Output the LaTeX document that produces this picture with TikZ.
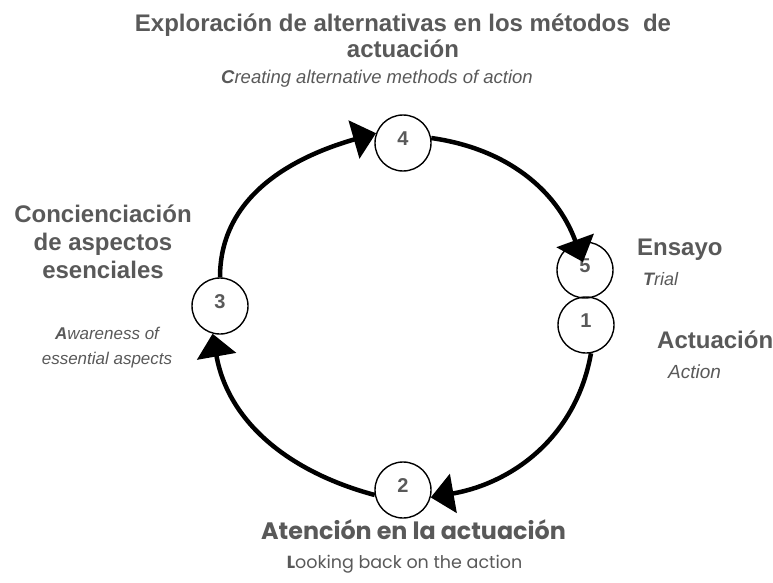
\documentclass[tikz,border=0pt]{standalone}
\usepackage{fontspec}
\setmainfont{Liberation Sans}
\newfontfamily\geofont{Poppins}
\usetikzlibrary{arrows.meta}
\definecolor{txt}{RGB}{89,89,89}
\begin{document}
\begin{tikzpicture}[x=1pt,y=1pt,
  num/.style={circle,draw=black,line width=1.4pt,minimum size=56pt,inner sep=0pt,
    text height=14pt,text depth=9pt,
    font=\fontsize{20}{20}\selectfont\bfseries,text=txt},
  flow/.style={line width=4.5pt,-{Triangle[length=23pt,width=39pt]}},
  head/.style={text=txt,font=\fontsize{24}{27}\selectfont\bfseries,align=center,anchor=base,inner sep=0pt},
  sub/.style={text=txt,font=\fontsize{17}{24}\selectfont\itshape,align=center,anchor=base,inner sep=0pt},
  geohead/.style={text=txt,font=\geofont\fontsize{23.8}{24}\selectfont\bfseries,anchor=base,inner sep=0pt},
  geosub/.style={text=txt,font=\geofont\fontsize{17.5}{18}\selectfont,anchor=base,inner sep=0pt}]
\useasboundingbox (0,0) rectangle (773,-583);
% numbered circles
\node[num] (c4) at (403,-143) {4};
\node[num] (c3) at (220,-306) {3};
\node[num] (c5) at (585,-270) {5};
\node[num] (c1) at (586,-325) {1};
\node[num] (c2) at (403,-490) {2};
\coordinate (t5) at (583,-262);
% connectors
\draw[flow] (c3.north) to[out=90,in=196] (c4.160);
\draw[flow] (c4.10) to[out=-8,in=110] (t5);
\draw[flow] (c1.-80) to[out=-100,in=10] (c2.-15);
\draw[flow] (c2.190) to[out=165,in=-80] (c3.-105);
% labels
\node[head,font=\fontsize{24}{26}\selectfont\bfseries] (title) at (403,-58) {Exploración de alternativas en los métodos\ \ de\\actuación};
\node[sub,font=\fontsize{18.5}{20}\selectfont\itshape] (titlesub) at (377,-84) {\textbf{C}reating alternative methods of action};
\node[head,font=\fontsize{24}{28}\selectfont\bfseries] (left) at (103,-278) {Concienciación\\de aspectos\\esenciales};
\node[sub,font=\fontsize{17}{25}\selectfont\itshape] (leftsub) at (107,-364) {\textbf{A}wareness of\\essential aspects};
\node[head,anchor=base west] (ens) at (637,-255) {Ensayo};
\node[sub,anchor=base west,font=\fontsize{18}{18}\selectfont\itshape] (enssub) at (643,-285) {\textbf{T}rial};
\node[head,anchor=base west] (act) at (657,-348) {Actuación};
\node[sub,anchor=base west,font=\fontsize{19}{19}\selectfont\itshape] (actsub) at (668,-378) {Action};
\node[geohead] (bot) at (413.5,-539) {Atención en la actuación};
\node[geosub] (botsub) at (404.5,-568) {\textbf{L}ooking back on the action};
\end{tikzpicture}
\end{document}
